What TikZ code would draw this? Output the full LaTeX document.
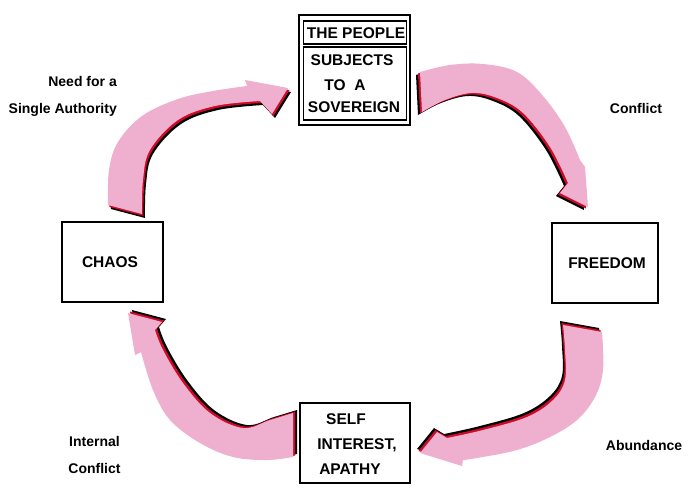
\documentclass[tikz,border=0pt]{standalone}
\usepackage{fontspec}
\setmainfont{Liberation Sans}
\definecolor{arrowpink}{RGB}{238,176,206}
\definecolor{shadowred}{RGB}{205,10,40}
\begin{document}
\begin{tikzpicture}[x=1pt,y=-1pt,
  box/.style={draw=black,line width=2.8pt,fill=white,inner sep=0pt},
  thinbox/.style={draw=black,line width=1.1pt,inner sep=0pt},
  boxtext/.style={font=\bfseries\fontsize{15.5}{18}\selectfont,inner sep=0pt},
  lbl/.style={font=\bfseries\fontsize{14}{26.5}\selectfont,inner sep=0pt},
]
\useasboundingbox[fill=white] (0,0) rectangle (700,496);

% ---- arrow 1: chaos -> people (top-left)
\foreach \dx/\dy/\c in {3/4/black,1.5/2/shadowred,0/0/arrowpink}{
\fill[\c,shift={(\dx,\dy)}] (108,205) -- (142,214)
  -- plot[smooth,tension=0.6] coordinates {(142,214)(143,180)(150,150)(178,120)(215,106)(260,101)}
  -- (272,114) -- (288,88) -- (245,80)
  -- plot[smooth,tension=0.6] coordinates {(247,86)(213,91)(178,99)(142,116)(118,142)(109,170)(108,205)}
  -- cycle;
}
% ---- arrow 2: people -> freedom (top-right)
\foreach \dx/\dy/\c in {-4/3/black,-2/1.5/shadowred,0/0/arrowpink}{
\fill[\c,shift={(\dx,\dy)}] (422,112) -- (420,72)
  -- plot[smooth,tension=0.6] coordinates {(420,72)(450,65)(483,64)(517,72)(543,96)(565,127)(580,160)}
  -- (585,167) -- (588,207) -- (560,193) -- (568,183)
  -- plot[smooth,tension=0.6] coordinates {(568,183)(550,147)(523,113)(497,98)(472,93)(445,100)(422,112)}
  -- cycle;
}
% ---- arrow 3: freedom -> self interest (bottom-right)
\foreach \dx/\dy/\c in {-3/-4/black,-1.5/-2/shadowred,0/0/arrowpink}{
\fill[\c,shift={(\dx,\dy)}] (563,325) -- (602,332)
  -- plot[smooth,tension=0.6] coordinates {(602,332)(603,370)(595,397)(577,420)(550,437)(517,450)(477,458)(463,460)}
  -- (462,466) -- (420,453) -- (437,432) -- (447,438)
  -- plot[smooth,tension=0.6] coordinates {(447,438)(483,430)(527,417)(553,400)(565,380)(565,350)(563,325)}
  -- cycle;
}
% ---- arrow 4: self interest -> chaos (bottom-left)
\foreach \dx/\dy/\c in {4/-3/black,2/-1.5/shadowred,0/0/arrowpink}{
\fill[\c,shift={(\dx,\dy)}] (293,413) -- (293,457)
  -- plot[smooth,tension=0.6] coordinates {(293,457)(267,460)(233,457)(200,443)(170,420)(153,390)(141,352)}
  -- (135,355) -- (128,313) -- (162,322) -- (155,330)
  -- plot[smooth,tension=0.6] coordinates {(155,330)(163,350)(183,383)(210,413)(243,428)(270,420)(293,413)}
  -- cycle;
}

% ---- boxes
\node[box,minimum width=111pt,minimum height=110pt] (people) at (354.5,70) {};
\node[thinbox,minimum width=103pt,minimum height=23pt] (head) at (355,32.5) {};
\node[thinbox,minimum width=103pt,minimum height=73pt] (body) at (355,83.5) {};
\node[boxtext] (t1) at (356,33) {THE PEOPLE};
\node[boxtext] (t2) at (352,60) {SUBJECTS};
\node[boxtext] (t3) at (345,85) {TO\ \ A};
\node[boxtext] (t4) at (354,107) {SOVEREIGN};

\node[box,minimum width=101pt,minimum height=80pt] (chaos) at (112.5,262) {};
\node[boxtext] (chaost) at (110,262) {CHAOS};

\node[box,minimum width=106pt,minimum height=80pt] (freedom) at (605,263) {};
\node[boxtext] (freedomt) at (607,263) {FREEDOM};

\node[box,minimum width=110pt,minimum height=80pt] (self) at (355,443) {};
\node[boxtext] (s1) at (346,419) {SELF};
\node[boxtext] (s2) at (357,445) {INTEREST,};
\node[boxtext] (s3) at (350,469) {APATHY};

% ---- labels
\node[lbl,align=right,anchor=east] (need) at (117,96.5) {Need for a\\Single Authority};
\node[lbl] (conflict) at (636,108) {Conflict};
\node[lbl] (abund) at (644,445) {Abundance};
\node[lbl,align=center] (internal) at (94.5,455) {Internal\\Conflict};
\end{tikzpicture}
\end{document}
